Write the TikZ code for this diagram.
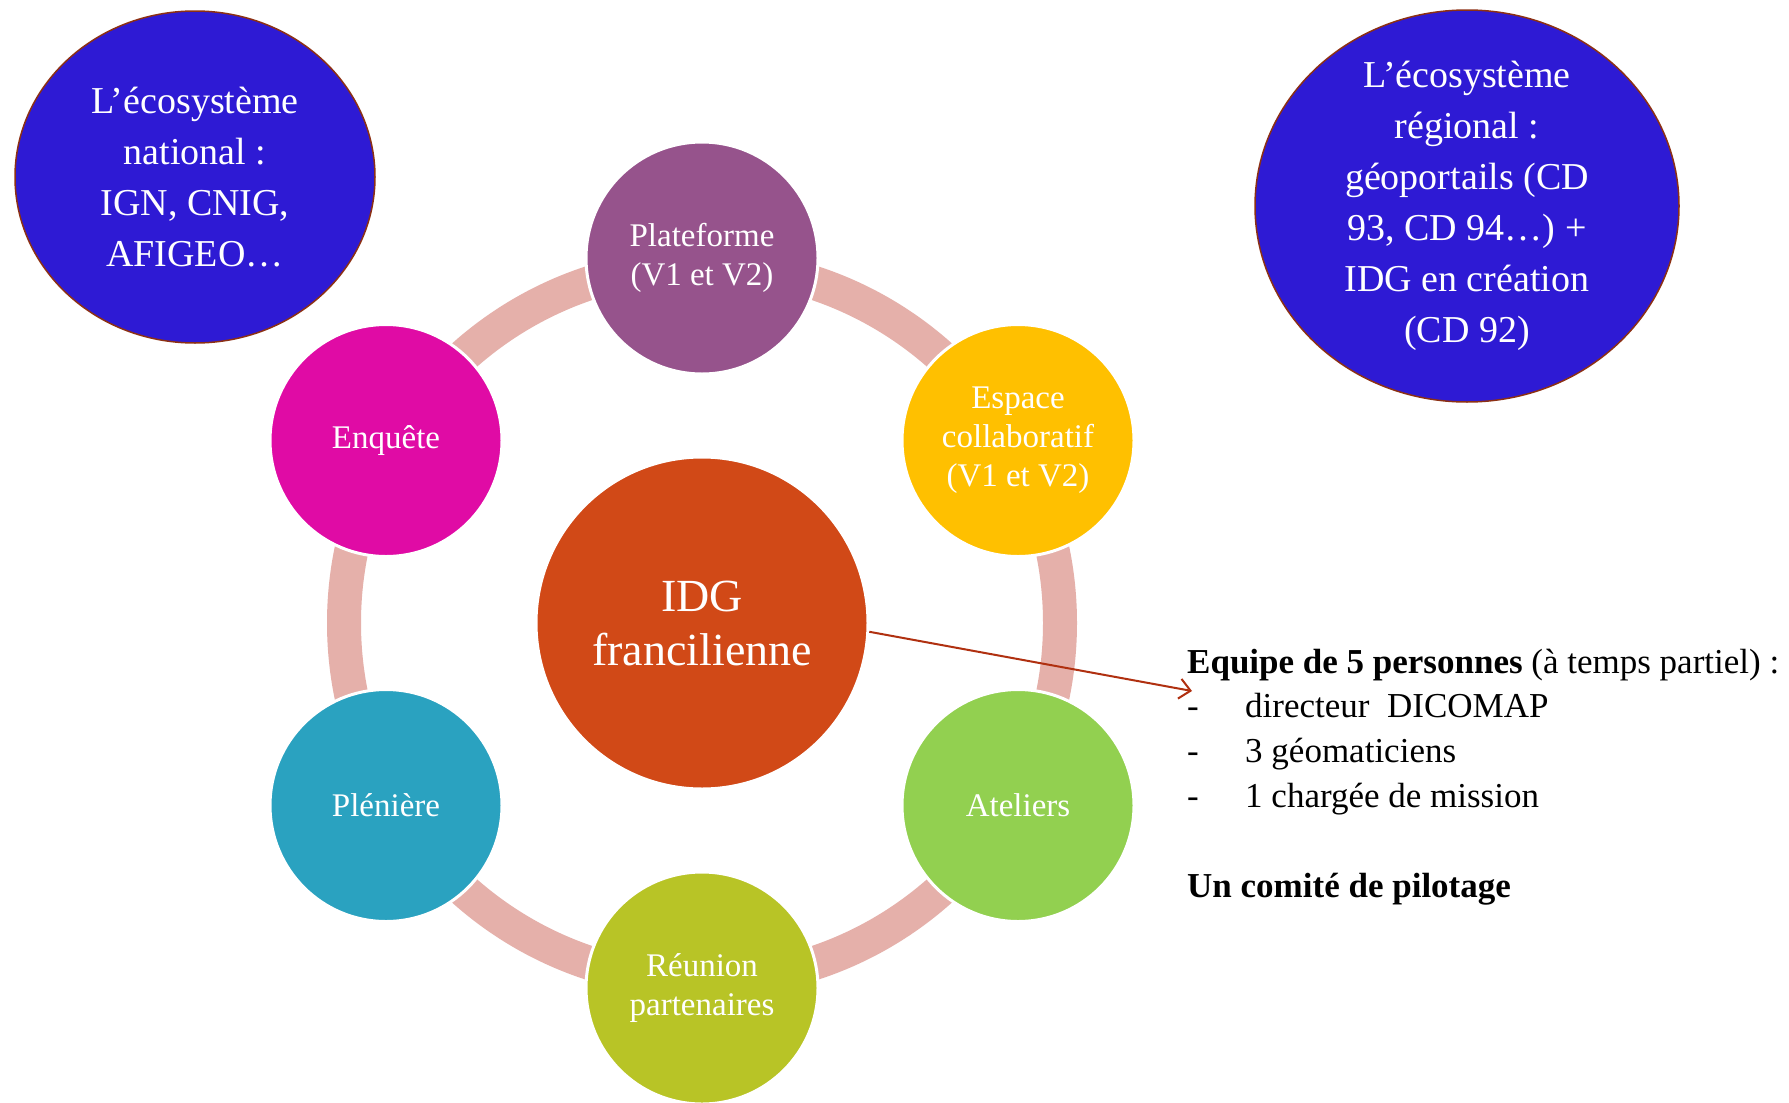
\documentclass[tikz,border=0pt]{standalone}
\usepackage{fontspec}
\setmainfont{Liberation Serif}
\usetikzlibrary{arrows.meta,shapes.geometric}
\definecolor{blueeco}{RGB}{46,26,212}
\definecolor{brownline}{RGB}{140,48,20}
\definecolor{ringcol}{RGB}{229,176,170}
\definecolor{idgcol}{RGB}{209,73,23}
\definecolor{platcol}{RGB}{150,83,140}
\definecolor{espcol}{RGB}{255,192,0}
\definecolor{atecol}{RGB}{146,208,80}
\definecolor{reucol}{RGB}{184,196,38}
\definecolor{plecol}{RGB}{42,162,192}
\definecolor{enqcol}{RGB}{224,11,165}
\definecolor{arrowcol}{RGB}{176,48,16}
\tikzset{
  smallc/.style={circle, minimum size=232pt, inner sep=0pt, draw=white, line width=3pt,
    text=white, align=center, font=\fontsize{33}{39}\selectfont},
  bigc/.style={circle, minimum size=332pt, inner sep=0pt, fill=idgcol, draw=white, line width=3pt,
    text=white, align=center, font=\fontsize{46}{54}\selectfont},
  ecotext/.style={text=white, align=center, inner sep=0pt, font=\fontsize{38}{51}\selectfont},
  ecoshape/.style={fill=blueeco, draw=brownline, line width=1.5pt},
  rtext/.style={anchor=base west, inner sep=0pt, font=\fontsize{35}{45}\selectfont}
}
\begin{document}
\begin{tikzpicture}[x=1pt,y=-1pt]
\useasboundingbox (0,0) rectangle (1789,1103);
\fill[white] (0,0) rectangle (1789,1103);
% ecosystem ellipses
\draw[ecoshape] (195,177) ellipse [x radius=180, y radius=166];
\node[ecotext] (nat) at (195,177) {L’écosystème\\national :\\IGN, CNIG,\\AFIGEO…};
\draw[ecoshape] (1467,206) ellipse [x radius=212, y radius=196];
\node[ecotext] (reg) at (1467,206) {L’écosystème\\régional :\\géoportails (CD\\93, CD 94…) +\\IDG en création\\(CD 92)};
% ring
\draw[ringcol, line width=34pt] (702,623) circle [radius=358];
% centre
\node[bigc] (idg) at (702,623) {IDG\\francilienne};
% satellites
\node[smallc, fill=platcol] (plat) at (702,258) {Plateforme\\(V1 et V2)};
\node[smallc, fill=espcol] (esp) at (1018,440.5) {Espace\\collaboratif\\(V1 et V2)};
\node[smallc, fill=atecol] (ate) at (1018,805.5) {Ateliers};
\node[smallc, fill=reucol] (reu) at (702,988) {Réunion\\partenaires};
\node[smallc, fill=plecol] (ple) at (386,805.5) {Plénière};
\node[smallc, fill=enqcol] (enq) at (386,440.5) {Enquête};
% team text
\node[rtext] (eq) at (1187,673) {\textbf{Equipe de 5 personnes} (à temps partiel) :};
\node[rtext] (d1) at (1187,717) {-};
\node[rtext] (i1) at (1245,717) {directeur\ \ DICOMAP};
\node[rtext] (d2) at (1187,762) {-};
\node[rtext] (i2) at (1245,762) {3 géomaticiens};
\node[rtext] (d3) at (1187,807) {-};
\node[rtext] (i3) at (1245,807) {1 chargée de mission};
\node[rtext] (cp) at (1187,897) {\textbf{Un comité de pilotage}};
% arrow
\coordinate (tip) at (1192,691);
\draw[arrowcol, line width=2pt, -{Straight Barb[length=11pt, width=20pt, line width=2pt]}] (idg.-3) -- (tip);
\end{tikzpicture}
\end{document}
